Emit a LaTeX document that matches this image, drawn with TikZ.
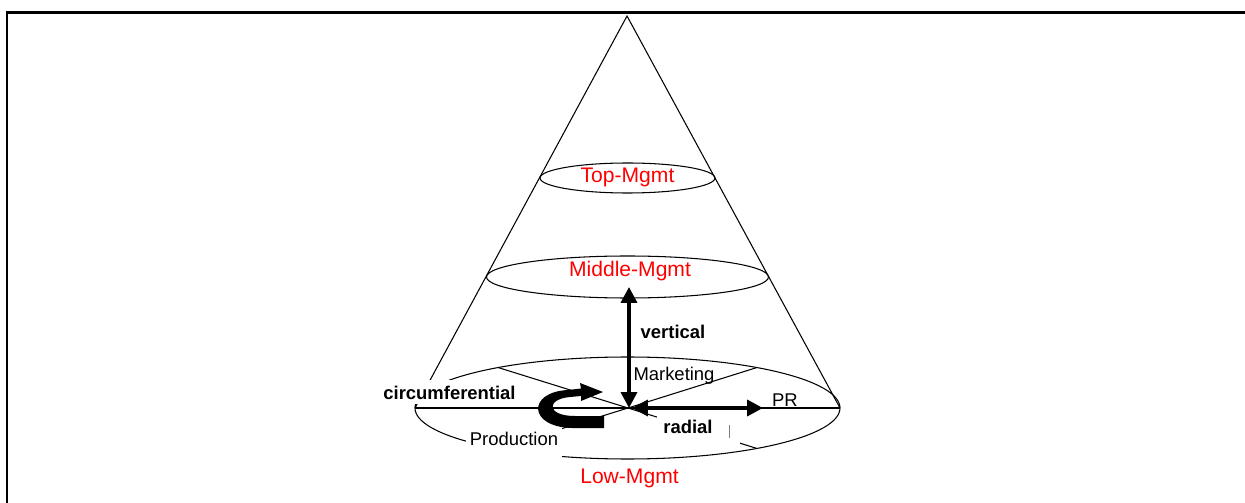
\documentclass[tikz,border=0pt]{standalone}
\usepackage{fontspec}
\setmainfont{Liberation Sans}
\usetikzlibrary{arrows.meta}

\begin{document}
\begin{tikzpicture}[x=0.02cm,y=-0.02cm,
    mgmt/.style={text=red,font=\fontsize{12}{14}\selectfont},
    lbl/.style={font=\fontsize{10.5}{12}\selectfont},
    boldlbl/.style={font=\fontsize{10.5}{12}\selectfont\bfseries},
    cover/.style={fill=white,inner sep=0pt},
    dim/.style={line width=2.1pt,{Triangle[length=9pt,width=9pt]}-{Triangle[length=9pt,width=9pt]}}]
  \useasboundingbox (0,0) rectangle (1245,503);
  \draw[line width=1.2pt] (7,503) -- (7,12.5) -- (1245,12.5);

  \draw (627,16) coordinate (apex);
  \draw (628,408) coordinate (c);
  \draw (415,408) coordinate (lft);
  \draw (840,408) coordinate (rgt);
  \path (627.5,408) ++(127.5:212.5 and 51) coordinate (ul);
  \path (627.5,408) ++(52.5:212.5 and 51) coordinate (ur);
  \path (627.5,408) ++(232.5:212.5 and 51) coordinate (ll);
  \path (627.5,408) ++(-52.5:212.5 and 51) coordinate (lr);

  % cone and levels
  \draw[line width=0.6pt] (lft) -- (apex) -- (rgt);
  \draw[line width=0.6pt] (627.5,178) ellipse [x radius=87.5, y radius=15];
  \draw[line width=0.6pt] (627.5,277) ellipse [x radius=141, y radius=21];
  \draw[line width=0.6pt] (627.5,408) ellipse [x radius=212.5, y radius=51];
  \draw[line width=0.6pt] (lft) -- (rgt);
  \draw[line width=0.6pt] (ul) -- (c) -- (ur);
  \draw[line width=0.6pt] (ll) -- (c) -- (lr);

  % labels that hide lines
  \node[cover,boldlbl,anchor=base,minimum width=81.6pt,minimum height=13.6pt] (circ) at (449.5,399) {circumferential};
  \node[cover,lbl,anchor=base,minimum width=55pt,minimum height=21.5pt] (prod) at (514,445) {Production};
  \node[cover,boldlbl,anchor=base west,text width=40pt,align=left,inner xsep=3.4pt,minimum height=19.3pt] (rad) at (657,434) {radial};
  \draw[gray,line width=0.5pt] (729,425) -- (729,438);

  % arrows
  \draw (629,287) coordinate (mtop);
  \draw (632,408) coordinate (rs);
  \draw (763,408) coordinate (re);
  \draw[dim] (mtop) -- (629,408);
  \draw[dim] (rs) -- (re);
  \fill (604,428) -- (572,428) .. controls (528,427) and (527,392) .. (568,390)
    -- (581,388.5) -- (580,383) -- (603,392) -- (581,401) -- (581,396) -- (570,397)
    .. controls (546,399) and (546,416) .. (575,416) -- (604,416) -- cycle;

  \node[mgmt,anchor=base] (top) at (627.5,183) {Top-Mgmt};
  \node[mgmt,anchor=base] (mid) at (630,277) {Middle-Mgmt};
  \node[mgmt,anchor=base] (low) at (629.5,483) {Low-Mgmt};
  \node[boldlbl,anchor=base] (vert) at (673,338) {vertical};
  \node[lbl,anchor=base] (mkt) at (674,380) {Marketing};
  \node[lbl,anchor=base] (pr) at (785,406) {PR};
\end{tikzpicture}
\end{document}
